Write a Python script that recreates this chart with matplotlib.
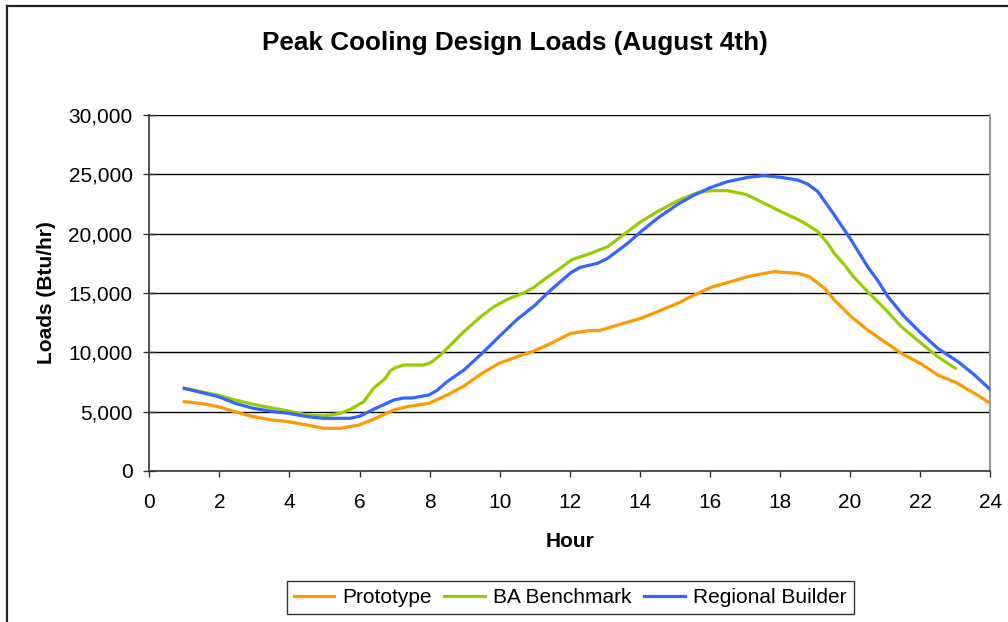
import numpy as np
import matplotlib
matplotlib.use('Agg')
import matplotlib.pyplot as plt
from matplotlib.lines import Line2D
from matplotlib.ticker import FuncFormatter

plt.rcParams['font.family'] = ['Liberation Sans', 'DejaVu Sans']

# values (hour, Btu/hr)
prototype_hours = [1.0, 1.45, 1.97, 2.5, 2.97, 3.5, 3.97, 4.5, 4.98, 5.45, 5.98, 6.4, 6.98,
                   7.36, 7.98, 8.5, 8.98, 9.5, 9.98, 10.5, 10.98, 11.46, 12.03, 12.55, 12.84,
                   13.46, 14.03, 14.5, 15.08, 15.55, 16.08, 16.5, 17.08, 17.55, 17.84, 18.5,
                   18.84, 19.27, 19.55, 20.03, 20.5, 20.98, 21.46, 22.03, 22.5, 23.03, 23.55, 24.0]
prototype_loads = [5843, 5702, 5421, 4944, 4579, 4298, 4157, 3876, 3596, 3596, 3876, 4354, 5140,
                   5421, 5702, 6404, 7163, 8230, 9073, 9635, 10112, 10758, 11601, 11826, 11826,
                   12388, 12865, 13427, 14129, 14831, 15534, 15871, 16376, 16657, 16798, 16657,
                   16376, 15393, 14410, 13006, 11882, 10899, 9916, 9017, 8090, 7444, 6545, 5702]

benchmark_hours = [1.0, 1.93, 2.45, 2.97, 3.55, 3.97, 4.5, 4.98, 5.45, 5.74, 6.12, 6.4, 6.74,
                   6.88, 7.03, 7.26, 7.84, 8.03, 8.31, 8.98, 9.46, 9.84, 10.22, 10.7, 10.98,
                   11.27, 11.74, 12.05, 12.6, 13.08, 13.46, 14.03, 14.5, 15.08, 15.65, 16.03,
                   16.5, 17.03, 17.55, 18.03, 18.5, 18.79, 19.08, 19.36, 19.55, 19.84, 20.08,
                   20.5, 20.98, 21.46, 22.03, 22.5, 23.0]
benchmark_loads = [6966, 6404, 5983, 5618, 5281, 5056, 4719, 4635, 4860, 5197, 5843, 6966, 7809,
                   8455, 8708, 8933, 8933, 9129, 9775, 11742, 13006, 13848, 14466, 15028, 15478,
                   16152, 17100, 17800, 18343, 18904, 19747, 21011, 21854, 22781, 23455, 23624,
                   23624, 23315, 22556, 21854, 21208, 20730, 20169, 19185, 18343, 17360, 16433,
                   15112, 13708, 12163, 10758, 9635, 8652]

builder_hours = [1.0, 1.97, 2.45, 2.97, 3.55, 3.97, 4.5, 4.98, 5.74, 6.02, 6.4, 6.98, 7.26, 7.5,
                 7.98, 8.2, 8.5, 8.98, 9.55, 9.98, 10.5, 10.98, 11.46, 12.03, 12.3, 12.79,
                 13.08, 13.65, 14.03, 14.5, 15.08, 15.55, 16.03, 16.5, 17.08, 17.55, 18.03,
                 18.5, 18.79, 19.08, 19.55, 20.03, 20.5, 20.79, 21.08, 21.55, 22.03, 22.5,
                 23.08, 23.55, 24.0]
builder_loads = [6966, 6264, 5702, 5281, 5000, 4860, 4579, 4438, 4438, 4635, 5197, 5983, 6152,
                 6152, 6404, 6770, 7528, 8511, 10056, 11320, 12781, 13904, 15253, 16713, 17163,
                 17500, 17921, 19185, 20169, 21292, 22472, 23258, 23904, 24382, 24747, 24888,
                 24747, 24522, 24185, 23539, 21573, 19466, 17219, 16039, 14691, 13006, 11601,
                 10337, 9213, 8090, 6860]

x_ticks = np.arange(0, 25, 2)
y_ticks = np.arange(0, 30001, 5000)

fig = plt.figure(figsize=(10.08, 6.22), dpi=100)
ax = fig.add_axes([0.1481, 0.2428, 0.8343, 0.5723])

ax.plot(prototype_hours, prototype_loads, color='#FF9900', lw=2.3, label='Prototype', zorder=3)
ax.plot(benchmark_hours, benchmark_loads, color='#99CC00', lw=2.3, label='BA Benchmark', zorder=3)
ax.plot(builder_hours, builder_loads, color='#3366FF', lw=2.3, label='Regional Builder', zorder=4)

ax.set_xlim(0, 24)
ax.set_ylim(0, 30000)
ax.set_xticks(x_ticks)
ax.set_yticks(y_ticks)
ax.yaxis.set_major_formatter(FuncFormatter(lambda v, p: f'{int(v):,}'))
ax.grid(axis='y', color='black', lw=1.0, zorder=1)
ax.tick_params(axis='x', direction='out', length=4.5, width=1, labelsize=15,
               color='#333333', pad=11)
ax.tick_params(axis='y', direction='inout', length=8, width=1, labelsize=15,
               color='#333333', pad=8)

for side in ['left', 'bottom']:
    ax.spines[side].set_color('#333333')
    ax.spines[side].set_linewidth(1.2)
ax.spines['right'].set_color('#999999')
ax.spines['right'].set_linewidth(1.5)
ax.spines['top'].set_visible(False)

ax.set_xlabel('Hour', fontsize=15, fontweight='bold', labelpad=15)
ax.set_ylabel('Loads (Btu/hr)', fontsize=15, fontweight='bold', labelpad=9)

fig.text(0.511, 0.931, 'Peak Cooling Design Loads (August 4th)', ha='center', va='center',
         fontsize=18.8, fontweight='bold')

leg = fig.legend(loc='center', bbox_to_anchor=(0.5657, 0.0395), ncol=3, fontsize=15,
                 frameon=True, fancybox=False, edgecolor='black', handlelength=1.95,
                 handletextpad=0.4, columnspacing=0.6, borderpad=0.32)
leg.get_frame().set_linewidth(1.0)

# outer chart border (top and left edges visible)
fig.add_artist(Line2D([0.007, 1.0], [0.990, 0.990], transform=fig.transFigure,
                      color='#222222', lw=1.6))
fig.add_artist(Line2D([0.007, 0.007], [0.0, 0.990], transform=fig.transFigure,
                      color='#222222', lw=1.6))

fig.savefig('out.png', dpi=100)
